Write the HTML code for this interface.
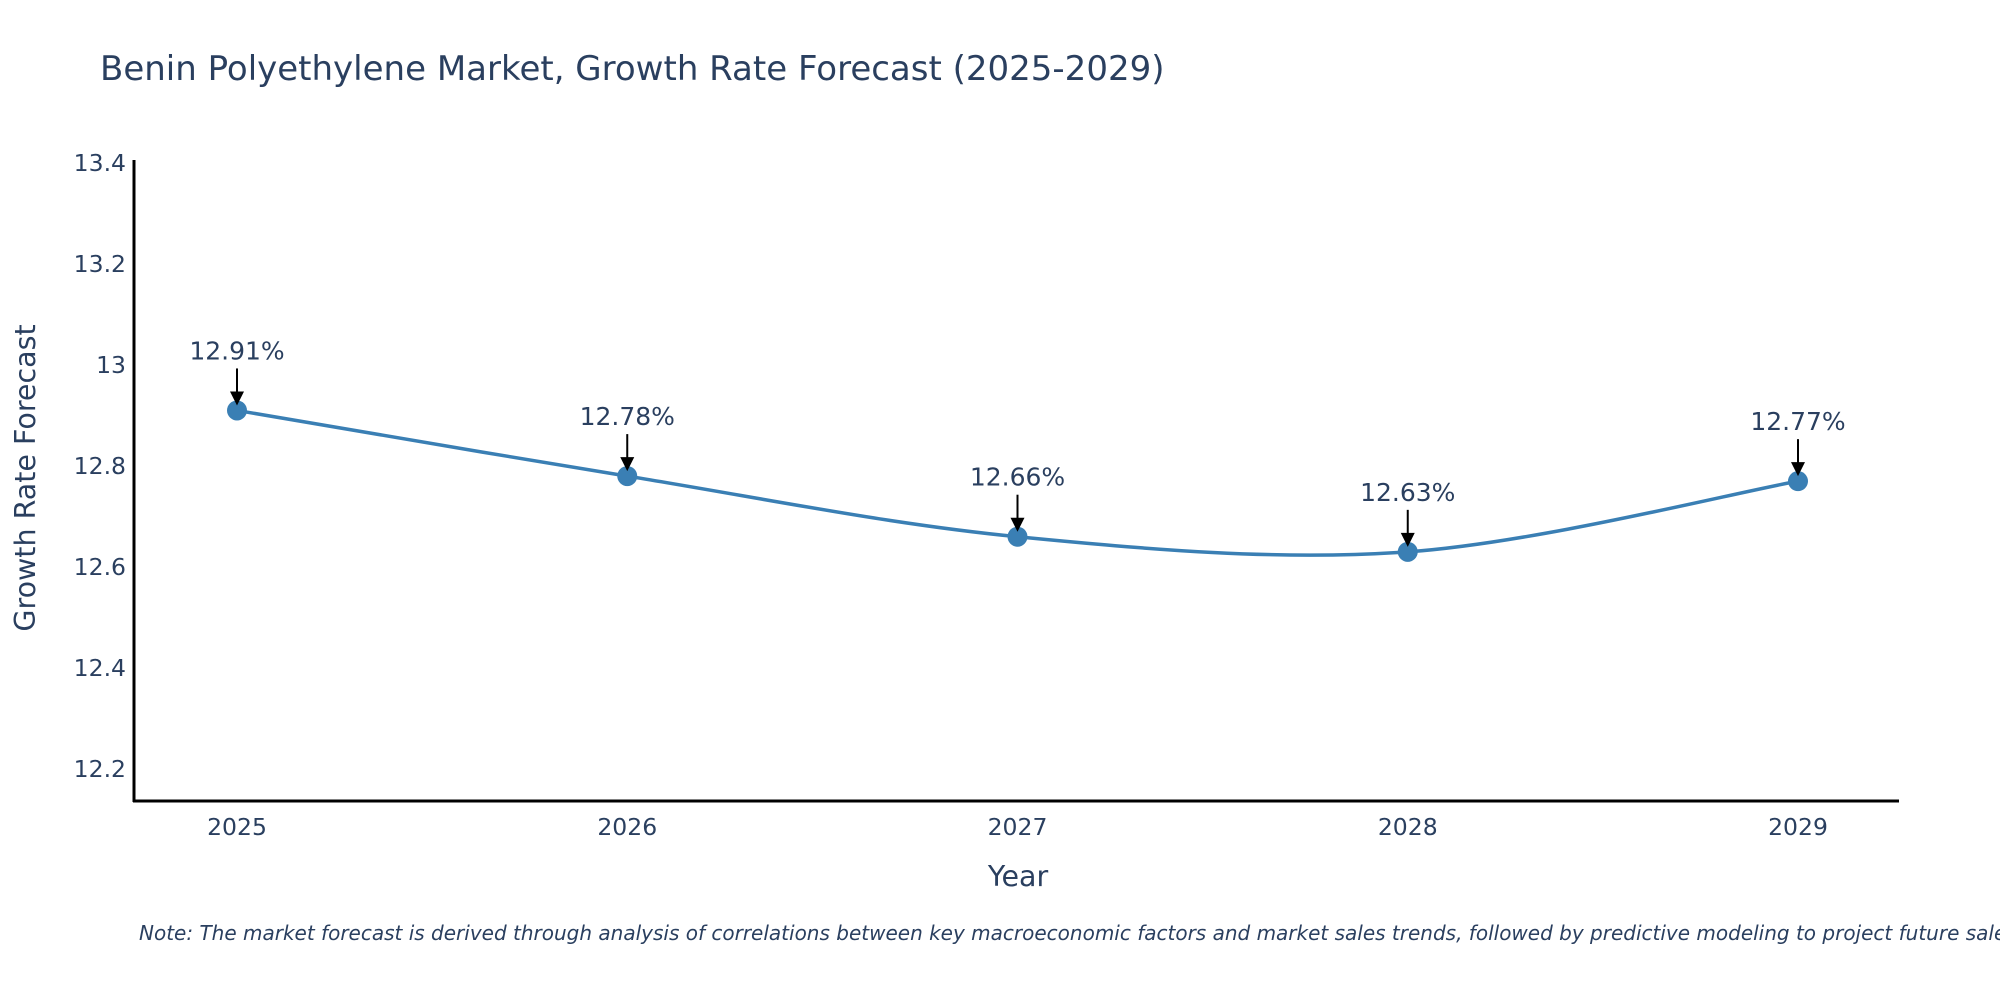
<!DOCTYPE html>
<html><head><meta charset="utf-8"><style>
body{margin:0;background:#fff;}
svg text{font-family:"DejaVu Sans","Liberation Sans",sans-serif;fill:#2a3f5f;}
</style></head><body>
<svg id="c" width="2000" height="1000" viewBox="0 0 2000 1000" xmlns="http://www.w3.org/2000/svg">
<text x="100" y="80" font-size="34">Benin Polyethylene Market, Growth Rate Forecast (2025-2029)</text>
<g id="yt"></g><g id="xt"></g>
<line x1="134" y1="160" x2="134" y2="802" stroke="#000" stroke-width="3"/>
<line x1="133" y1="801" x2="1899" y2="801" stroke="#000" stroke-width="3"/>
<text transform="translate(35,478) rotate(-90)" text-anchor="middle" font-size="28.5">Growth Rate Forecast</text>
<text x="1018" y="886" text-anchor="middle" font-size="28.5">Year</text>
<text x="139" y="940" font-size="20" font-style="italic">Note: The market forecast is derived through analysis of correlations between key macroeconomic factors and market sales trends, followed by predictive modeling to project future sales.</text>
<g id="plot"></g>
</svg>
<script>
const years=[2025,2026,2027,2028,2029];
const values=[12.91,12.78,12.66,12.63,12.77];
const labels=["12.91%","12.78%","12.66%","12.63%","12.77%"];
const yTicks=[12.2,12.4,12.6,12.8,13,13.2,13.4];
const yTickLabels=["12.2","12.4","12.6","12.8","13","13.2","13.4"];
const NS="http://www.w3.org/2000/svg";
const X=v=>237+(v-2025)*390.25;
const Y=v=>365-(v-13)*505;
function mk(t,a,p){const e=document.createElementNS(NS,t);for(const k in a)e.setAttribute(k,a[k]);(p||document.getElementById('plot')).appendChild(e);return e;}
const yt=document.getElementById('yt'),xt=document.getElementById('xt');
yTicks.forEach((v,i)=>{const t=mk('text',{x:126,y:Y(v)+8,'text-anchor':'end','font-size':23.5},yt);t.textContent=yTickLabels[i];

});
years.forEach(v=>{const t=mk('text',{x:X(v),y:835,'text-anchor':'middle','font-size':23.5},xt);t.textContent=v;

});
const P=years.map((y,i)=>[X(y),Y(values[i])]);
let d=`M${P[0][0]},${P[0][1]}`;
for(let i=0;i<P.length-1;i++){const p0=P[i-1]||P[i],p1=P[i],p2=P[i+1],p3=P[i+2]||P[i+1];const s=6;
d+=` C${p1[0]+(p2[0]-p0[0])/s},${p1[1]+(p2[1]-p0[1])/s} ${p2[0]-(p3[0]-p1[0])/s},${p2[1]-(p3[1]-p1[1])/s} ${p2[0]},${p2[1]}`;}
const line=mk('path',{d:d,fill:'none',stroke:'#3a7fb4','stroke-width':3.5});


P.forEach((p,i)=>{
const c=mk('circle',{cx:p[0],cy:p[1],r:10,fill:'#3a7fb4'});


const a=mk('line',{x1:p[0],y1:p[1]-42,x2:p[0],y2:p[1]-18,stroke:'#000','stroke-width':2});


const h=mk('polygon',{points:`${p[0]-7},${p[1]-19} ${p[0]+7},${p[1]-19} ${p[0]},${p[1]-5}`,fill:'#000'});


const t=mk('text',{x:p[0],y:p[1]-51,'text-anchor':'middle','font-size':25});t.textContent=labels[i];


});
</script>
</body></html>
